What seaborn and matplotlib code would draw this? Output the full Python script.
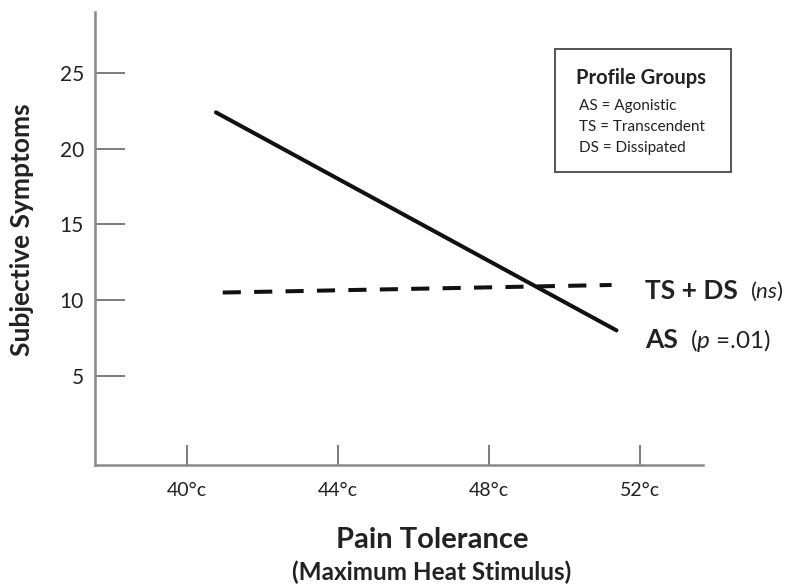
import pandas as pd
import seaborn as sns
from matplotlib import pyplot as plt
from matplotlib.patches import Rectangle

# values
temp_ticks = [40, 44, 48, 52]
temp_labels = ['40°c', '44°c', '48°c', '52°c']
symptom_ticks = [5, 10, 15, 20, 25]

as_x = [40.77, 51.37]
as_y = [22.4, 8.0]
tsds_x = [40.95, 51.24]
tsds_y = [10.5, 11.0]

legend_title = 'Profile Groups'
legend_rows = ['AS = Agonistic', 'TS = Transcendent', 'DS = Dissipated']

sns.set_style('ticks')
plt.rcParams['font.family'] = ['Lato', 'DejaVu Sans']
plt.rcParams['mathtext.fontset'] = 'custom'
plt.rcParams['mathtext.rm'] = 'Lato'
plt.rcParams['mathtext.it'] = 'Lato:italic'

fig = plt.figure(figsize=(8, 5.88), dpi=100)
ax = fig.add_axes([0.11875, 0.2092, 0.7605, 0.7704])

as_df = pd.DataFrame({'temp': as_x, 'symptoms': as_y})
tsds_df = pd.DataFrame({'temp': tsds_x, 'symptoms': tsds_y})

sns.lineplot(data=as_df, x='temp', y='symptoms', color='#111111', linewidth=2.9, ax=ax)
sns.lineplot(data=tsds_df, x='temp', y='symptoms', color='#111111', linewidth=2.9, ax=ax)
ax.lines[-1].set_dashes((4.5, 3.3))

ax.set_xlim(37.57, 53.67)
ax.set_ylim(-0.89, 29.03)
sns.despine(ax=ax)
for s in ['left', 'bottom']:
    ax.spines[s].set_color('#8a8a8a')
    ax.spines[s].set_linewidth(1.8)

ax.set_xticks(temp_ticks)
ax.set_xticklabels(temp_labels)
ax.set_yticks(symptom_ticks)
ax.tick_params(axis='y', direction='in', length=21.5, width=1.2, color='#666666',
               labelsize=15, pad=8, labelcolor='#222222')
ax.tick_params(axis='x', direction='in', length=14.5, width=1.2, color='#666666',
               labelsize=14, pad=12, labelcolor='#222222')

ax.set_xlabel('')
ax.set_ylabel('Subjective Symptoms', fontsize=19, fontweight='bold', color='#222222')
ax.yaxis.set_label_coords(-0.1, 0.52)
fig.text(0.54, 1 - 540 / 588, 'Pain Tolerance', ha='center', va='center', fontsize=21,
         fontweight='bold', color='#222222')
fig.text(0.54, 1 - 572 / 588, '(Maximum Heat Stimulus)', ha='center', va='center', fontsize=17.5,
         fontweight='bold', color='#222222')

# line labels at right
fig.text(645 / 800, 1 - 291 / 588, 'TS + DS', ha='left', va='center', fontsize=19,
         fontweight='bold', color='#222222')
fig.text(750 / 800, 1 - 291 / 588, r'($\mathit{ns}$)', ha='left', va='center', fontsize=16,
         color='#222222')
fig.text(645 / 800, 1 - 340 / 588, 'AS', ha='left', va='center', fontsize=19,
         fontweight='bold', color='#222222')
fig.text(690 / 800, 1 - 340 / 588, r'($\mathit{p}$ =.01)', ha='left', va='center', fontsize=17.5,
         color='#222222')

# profile group box
fig.patches.append(Rectangle((555 / 800, 1 - 172 / 588), 176 / 800, 123 / 588,
                             transform=fig.transFigure, fill=False,
                             edgecolor='#555555', linewidth=1.4))
fig.text(641 / 800, 1 - 78 / 588, legend_title, ha='center', va='center', fontsize=14.5,
         fontweight='bold', color='#222222')
for i, row in enumerate(legend_rows):
    fig.text(579 / 800, 1 - (106 + i * 21) / 588, row, ha='left', va='center',
             fontsize=11, color='#222222')

fig.savefig('out.png', dpi=100)
